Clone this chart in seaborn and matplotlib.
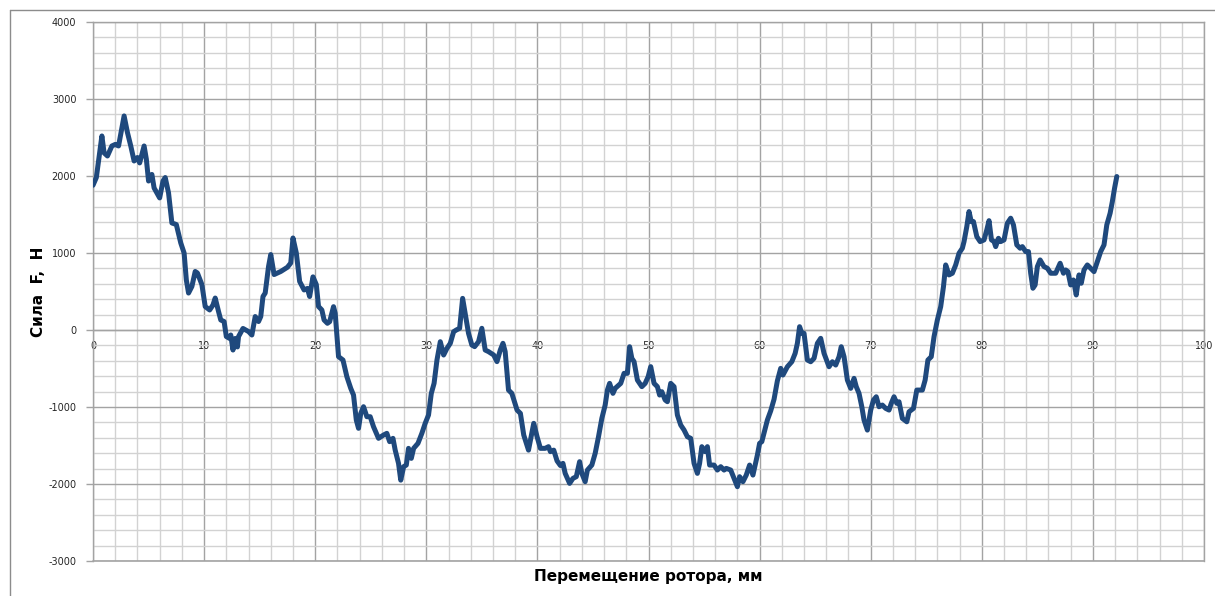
import matplotlib
matplotlib.use("Agg")
import matplotlib.pyplot as plt
from matplotlib.ticker import MultipleLocator
from matplotlib.lines import Line2D
import seaborn as sns
import pandas as pd

# Rotor displacement, mm
x_mm = [
    0.0, 0.3, 0.8, 1.0, 1.3, 1.7, 2.0, 2.3, 2.8, 3.1, 3.4, 3.7, 4.0, 4.2, 4.6, 4.8,
    5.0, 5.3, 5.5, 6.0, 6.3, 6.5, 6.8, 7.1, 7.5, 7.9, 8.2, 8.4, 8.6, 8.9, 9.2, 9.4,
    9.8, 10.1, 10.5, 10.8, 11.0, 11.3, 11.5, 11.8, 12.0, 12.3, 12.4, 12.6, 12.8, 13.0,
    13.1, 13.5, 14.0, 14.3, 14.6, 14.9, 15.1, 15.3, 15.5, 15.8, 16.0, 16.3, 16.9, 17.5,
    17.8, 18.0, 18.3, 18.6, 19.0, 19.3, 19.5, 19.8, 20.1, 20.3, 20.6, 20.8, 21.1, 21.3,
    21.65, 21.8, 22.1, 22.5, 22.85, 23.2, 23.45, 23.7, 23.9, 24.1, 24.35, 24.65, 24.95,
    25.25, 25.7, 26.15, 26.45, 26.7, 27.0, 27.2, 27.5, 27.7, 27.96, 28.2, 28.4, 28.65,
    28.86, 29.25, 29.6, 29.9, 30.2, 30.45, 30.7, 30.96, 31.26, 31.56, 31.86, 32.16,
    32.46, 32.7, 33.0, 33.27, 33.5, 33.8, 34.1, 34.35, 34.7, 35.0, 35.3, 35.6, 36.07,
    36.36, 36.66, 36.9, 37.1, 37.4, 37.7, 38.17, 38.47, 38.77, 39.2, 39.43, 39.67,
    39.97, 40.27, 40.7, 41.0, 41.17, 41.47, 41.77, 42.07, 42.3, 42.5, 42.9, 43.2, 43.5,
    43.8, 44.0, 44.3, 44.5, 44.9, 45.2, 45.5, 45.8, 46.1, 46.3, 46.5, 46.8, 47.0, 47.5,
    47.8, 48.1, 48.3, 48.5, 48.7, 49.0, 49.4, 49.7, 49.97, 50.2, 50.5, 50.8, 51.0, 51.2,
    51.5, 51.7, 52.0, 52.3, 52.6, 52.9, 53.2, 53.5, 53.8, 54.1, 54.4, 54.6, 54.8, 55.1,
    55.3, 55.5, 55.9, 56.2, 56.5, 56.8, 57.0, 57.4, 57.7, 58.0, 58.2, 58.5, 58.8, 59.1,
    59.4, 59.8, 60.0, 60.2, 60.7, 61.0, 61.3, 61.6, 61.9, 62.1, 62.5, 62.9, 63.2, 63.4,
    63.6, 63.8, 64.0, 64.3, 64.6, 64.9, 65.2, 65.5, 65.8, 66.25, 66.55, 66.85, 67.15,
    67.35, 67.6, 67.9, 68.2, 68.5, 68.7, 68.95, 69.2, 69.4, 69.7, 70.0, 70.25, 70.5,
    70.75, 71.05, 71.35, 71.65, 71.85, 72.1, 72.35, 72.55, 72.85, 73.25, 73.45, 73.85,
    74.15, 74.35, 74.65, 74.9, 75.15, 75.45, 75.7, 76.0, 76.3, 76.55, 76.75, 77.05,
    77.35, 77.65, 77.95, 78.25, 78.4, 78.65, 78.85, 79.05, 79.25, 79.55, 79.85, 80.2,
    80.45, 80.65, 80.87, 81.1, 81.25, 81.5, 81.7, 82.0, 82.3, 82.6, 82.85, 83.15, 83.45,
    83.65, 83.95, 84.2, 84.4, 84.6, 84.8, 85.0, 85.25, 85.6, 85.9, 86.2, 86.65, 87.05,
    87.35, 87.55, 87.75, 88.0, 88.25, 88.5, 88.75, 88.95, 89.2, 89.5, 89.8, 90.1, 90.35,
    90.7, 91.0, 91.25, 91.55, 91.75, 91.95, 92.15,
]

# Force F, N
force_n = [
    1880, 1980, 2520, 2300, 2260, 2390, 2410, 2390, 2780, 2565, 2390, 2195, 2240, 2170, 2390, 2220,
    1935, 2020, 1845, 1715, 1935, 1980, 1780, 1390, 1370, 1130, 1000, 650, 480, 565, 760, 740,
    590, 305, 260, 325, 415, 240, 130, 110, -85, -110, -65, -260, -110, -220,
    -85, 20, -20, -65, 175, 110, 175, 435, 480, 825, 980, 720, 760, 815,
    870, 1195, 1000, 630, 520, 540, 435, 690, 590, 305, 260, 130, 87, 108,
    303, 217, -346, -390, -606, -758, -845, -1170, -1277, -1083, -996, -1126, -1126,
    -1256, -1407, -1364, -1342, -1450, -1407, -1560, -1732, -1950, -1775, -1754, -1537, -1667,
    -1537, -1472, -1342, -1212, -1104, -823, -693, -390, -152, -325, -238, -173,
    -22, 0, 22, 411, 217, -43, -195, -216, -152, 22, -260, -281, -325,
    -411, -260, -173, -281, -780, -823, -1040, -1083, -1364, -1560, -1386, -1212,
    -1386, -1537, -1537, -1515, -1580, -1560, -1700, -1760, -1732, -1862, -1992, -1927, -1905,
    -1710, -1862, -1970, -1819, -1754, -1602, -1386, -1148, -975, -780, -693, -823, -758, -693,
    -563, -563, -217, -368, -411, -650, -736, -693, -606, -476, -693, -736, -845, -801,
    -909, -931, -693, -736, -1104, -1234, -1299, -1386, -1407, -1732, -1862, -1732, -1515, -1580,
    -1515, -1754, -1754, -1819, -1775, -1819, -1797, -1819, -1927, -2035, -1905, -1970, -1884, -1754,
    -1884, -1624, -1472, -1450, -1169, -1050, -900, -660, -498, -585, -477, -412, -303, -173,
    43, -43, -43, -390, -412, -368, -173, -108, -303, -477, -412, -455, -347,
    -217, -347, -650, -758, -628, -736, -823, -997, -1170, -1300, -1040, -910, -867,
    -997, -975, -1018, -1040, -953, -867, -953, -932, -1148, -1192, -1062, -1018,
    -780, -780, -780, -650, -390, -347, -87, 130, 303, 563, 845, 715,
    737, 845, 997, 1062, 1148, 1343, 1538, 1408, 1408, 1213, 1148, 1170,
    1300, 1420, 1170, 1148, 1083, 1191, 1148, 1170, 1387, 1452, 1365, 1105, 1062,
    1083, 1018, 1018, 737, 542, 585, 823, 910, 823, 802, 737, 737, 867,
    737, 780, 758, 585, 650, 455, 715, 607, 780, 845, 802, 758, 867,
    1018, 1105, 1365, 1517, 1668, 1842, 1993,
]

x_ticks = list(range(0, 101, 10))
y_ticks = list(range(-3000, 4001, 1000))
x_label = "Перемещение ротора, мм"
y_label = "Сила  F,  Н"

df = pd.DataFrame({"x": x_mm, "F": force_n})

sns.set_theme(style="white")
plt.rcParams["font.family"] = ["DejaVu Sans"]
plt.rcParams["axes.unicode_minus"] = False

fig = plt.figure(figsize=(12.15, 5.96), dpi=100)
ax = fig.add_axes([93 / 1215, 35 / 596, 1111 / 1215, 539 / 596])

grid_major = "#a3a3a3"
grid_minor = "#d2d2d2"
text_col = "#262626"

sns.lineplot(data=df, x="x", y="F", sort=False, estimator=None, ax=ax,
             color="#1F497D", linewidth=3.6, zorder=5,
             solid_joinstyle="round", solid_capstyle="round")

ax.set_xlim(0, 100)
ax.set_ylim(-3000, 4000)
ax.set_xticks(x_ticks)
ax.set_yticks(y_ticks)
ax.xaxis.set_minor_locator(MultipleLocator(2))
ax.yaxis.set_minor_locator(MultipleLocator(200))

ax.grid(which="minor", color=grid_minor, linewidth=1.0, zorder=0)
ax.grid(which="major", color=grid_major, linewidth=1.0, zorder=0)
ax.set_axisbelow(True)

for side in ("left", "right", "top", "bottom"):
    ax.spines[side].set_color(grid_major)
    ax.spines[side].set_linewidth(1.0)
    ax.spines[side].set_visible(True)

# x axis crosses at F = 0
ax.spines["bottom"].set_position(("data", 0))
ax.axhline(-3000, color=grid_major, linewidth=1.2, clip_on=False, zorder=1)

ax.tick_params(axis="x", which="both", length=0, pad=8, labelsize=7, labelcolor=text_col)
ax.tick_params(axis="y", which="major", length=5, width=1.0, color=grid_major,
               pad=7, labelsize=7, labelcolor=text_col, left=True)
ax.tick_params(axis="y", which="minor", length=0)

ax.set_xlabel(x_label, fontsize=11, fontweight="bold", color="black")
ax.set_ylabel(y_label, fontsize=11, fontweight="bold", color="black")
ax.xaxis.set_label_coords(0.5, -0.028)
ax.xaxis.label.set_va("center")
ax.yaxis.set_label_coords(-0.0495, 0.5)
ax.yaxis.label.set_va("center")

# chart frame
frame_col = "#8c8c8c"
fig.add_artist(Line2D([9.5 / 1215, 9.5 / 1215], [0, 1 - 9.5 / 596], color=frame_col,
                      linewidth=1.0, transform=fig.transFigure))
fig.add_artist(Line2D([9.5 / 1215, 1], [1 - 9.5 / 596, 1 - 9.5 / 596], color=frame_col,
                      linewidth=1.0, transform=fig.transFigure))

fig.savefig("out.png", dpi=100, facecolor="white")
